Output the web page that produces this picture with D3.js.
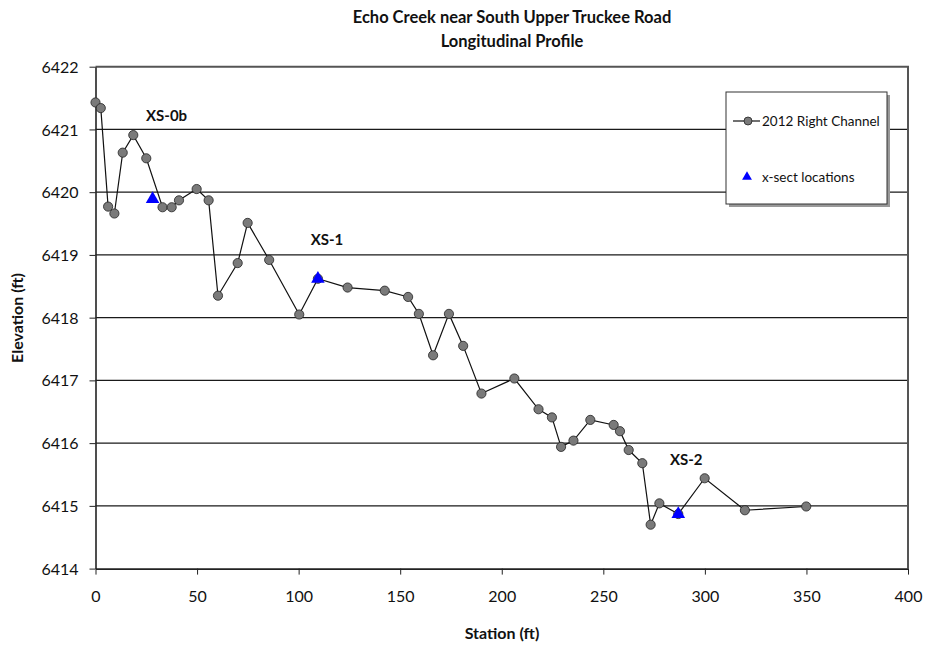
<!DOCTYPE html>
<html>
<head>
<meta charset="utf-8">
<script src="https://cdn.jsdelivr.net/npm/d3@7"></script>
<style>
  html, body { margin: 0; padding: 0; background: #fff; }
  svg { display: block; font-family: Lato, "Open Sans", sans-serif; }
</style>
</head>
<body>
<svg id="chart" width="925" height="647"></svg>
<script>
// Surveyed thalweg: station (ft) and elevation (ft)
const station = [0, 2.6, 6.2, 9.3, 13.4, 18.6, 25.0, 33.0, 37.5, 41.1, 49.8, 55.7,
  60.3, 70.0, 74.9, 85.5, 100.3, 109.5, 124.1, 142.4, 153.9, 159.2, 166.2, 174.0, 181.0,
  190.0, 206.2, 218.1, 224.7, 229.2, 235.3, 243.6, 255.1, 258.2, 262.5, 269.2, 273.3,
  277.6, 286.9, 299.9, 319.7, 349.9];
const elevation = [6421.43, 6421.34, 6419.77, 6419.66, 6420.63, 6420.91, 6420.54, 6419.76,
  6419.76, 6419.87, 6420.05, 6419.87, 6418.35, 6418.87, 6419.51, 6418.92, 6418.05, 6418.62,
  6418.48, 6418.43, 6418.33, 6418.06, 6417.40, 6418.06, 6417.55, 6416.79, 6417.03, 6416.54,
  6416.41, 6415.94, 6416.04, 6416.37, 6416.29, 6416.19, 6415.89, 6415.68, 6414.70, 6415.04,
  6414.87, 6415.44, 6414.93, 6414.99];

// Cross-section locations
const xsNames = ["XS-0b", "XS-1", "XS-2"];
const xsStation = [28.1, 109.5, 286.9];
const xsElevation = [6419.89, 6418.62, 6414.87];

const xTicks = [0, 50, 100, 150, 200, 250, 300, 350, 400];
const yTicks = [6414, 6415, 6416, 6417, 6418, 6419, 6420, 6421, 6422];

const titleLines = ["Echo Creek near South Upper Truckee Road", "Longitudinal Profile"];
const seriesNames = ["2012 Right Channel", "x-sect locations"];

const svg = d3.select("#chart");
const plotL = 95.5, plotR = 908, plotT = 66.7, plotB = 568.6;

const x = d3.scaleLinear().domain([0, 400]).range([plotL, plotR]);
const y = d3.scaleLinear().domain([6414, 6422]).range([plotB, plotT]);

// Horizontal gridlines
svg.append("g")
  .selectAll("line")
  .data(yTicks.slice(1, -1))
  .join("line")
  .attr("x1", plotL).attr("x2", plotR)
  .attr("y1", d => y(d)).attr("y2", d => y(d))
  .attr("stroke", "#1a1a1a").attr("stroke-width", 1.2);

// Plot frame (top and right edges)
svg.append("path")
  .attr("d", `M${plotL},${plotT}H${plotR}V${plotB}`)
  .attr("fill", "none").attr("stroke", "#555").attr("stroke-width", 2);

// Axes
const xAxis = svg.append("g")
  .attr("transform", `translate(0,${plotB})`)
  .call(d3.axisBottom(x).tickValues(xTicks).tickSize(6).tickSizeOuter(0).tickPadding(16));
const yAxis = svg.append("g")
  .attr("transform", `translate(${plotL},0)`)
  .call(d3.axisLeft(y).tickValues(yTicks).tickFormat(d3.format("d")).tickSize(6).tickSizeOuter(0).tickPadding(11));
[xAxis, yAxis].forEach(g => {
  g.selectAll("path.domain").attr("stroke", "#222").attr("stroke-width", 1.6);
  g.selectAll(".tick line").attr("stroke", "#222");
  g.selectAll("text").attr("font-size", 16).attr("fill", "#111").attr("font-family", "Lato, sans-serif");
});
yAxis.selectAll("text").attr("dy", "0.35em");

// Profile line and survey points
const pts = station.map((s, i) => [s, elevation[i]]);
svg.append("path")
  .datum(pts)
  .attr("fill", "none").attr("stroke", "#111").attr("stroke-width", 1.2)
  .attr("d", d3.line().x(d => x(d[0])).y(d => y(d[1])));
svg.append("g")
  .selectAll("circle")
  .data(pts)
  .join("circle")
  .attr("cx", d => x(d[0])).attr("cy", d => y(d[1])).attr("r", 4.6)
  .attr("fill", "#7a7a7a").attr("stroke", "#222").attr("stroke-width", 0.8);

// Cross-section markers
const tri = d3.symbol().type(d3.symbolTriangle).size(80);
svg.append("g")
  .selectAll("path")
  .data(xsStation.map((s, i) => [s, xsElevation[i]]))
  .join("path")
  .attr("transform", d => `translate(${x(d[0])},${y(d[1])})`)
  .attr("d", tri).attr("fill", "#0000ff");

// Cross-section labels
const xsLabelOffset = [[14, -83], [9, -39], [8, -54]];
svg.append("g")
  .selectAll("text")
  .data(xsNames)
  .join("text")
  .attr("x", (d, i) => x(xsStation[i]) + xsLabelOffset[i][0])
  .attr("y", (d, i) => y(xsElevation[i]) + xsLabelOffset[i][1])
  .attr("text-anchor", "middle").attr("dy", "0.35em")
  .attr("font-size", 15).attr("font-weight", "bold").attr("fill", "#111")
  .text(d => d);

// Legend
const lg = svg.append("g");
const lx = 726, ly = 92, lw = 161, lh = 112;
lg.append("rect").attr("x", lx + 3).attr("y", ly + 3).attr("width", lw).attr("height", lh).attr("fill", "#999");
lg.append("rect").attr("x", lx).attr("y", ly).attr("width", lw).attr("height", lh)
  .attr("fill", "#fff").attr("stroke", "#333").attr("stroke-width", 1);
lg.append("line").attr("x1", lx + 7).attr("x2", lx + 34).attr("y1", ly + 29).attr("y2", ly + 29)
  .attr("stroke", "#111").attr("stroke-width", 1.2);
lg.append("circle").attr("cx", lx + 22).attr("cy", ly + 29).attr("r", 4)
  .attr("fill", "#7a7a7a").attr("stroke", "#222").attr("stroke-width", 0.8);
lg.append("path").attr("transform", `translate(${lx + 21},${ly + 85})`)
  .attr("d", d3.symbol().type(d3.symbolTriangle).size(42)).attr("fill", "#0000ff");
lg.selectAll("text.legend")
  .data(seriesNames)
  .join("text")
  .attr("class", "legend")
  .attr("x", lx + 36)
  .attr("y", (d, i) => ly + 29 + i * 56)
  .attr("dy", "0.35em").attr("font-size", 13.5).attr("fill", "#111")
  .text(d => d);

// Titles
svg.append("g")
  .selectAll("text")
  .data(titleLines)
  .join("text")
  .attr("x", 512).attr("y", (d, i) => 23 + i * 24)
  .attr("text-anchor", "middle")
  .attr("font-size", 16.5).attr("font-weight", "bold").attr("fill", "#111")
  .text(d => d);

svg.append("text")
  .attr("x", 502).attr("y", 633).attr("dy", "0.35em")
  .attr("text-anchor", "middle").attr("font-size", 16).attr("font-weight", "bold").attr("fill", "#111")
  .text("Station (ft)");

svg.append("text")
  .attr("transform", "translate(17,318) rotate(-90)")
  .attr("dy", "0.35em").attr("text-anchor", "middle")
  .attr("font-size", 16).attr("font-weight", "bold").attr("fill", "#111")
  .text("Elevation (ft)");
</script>
</body>
</html>
